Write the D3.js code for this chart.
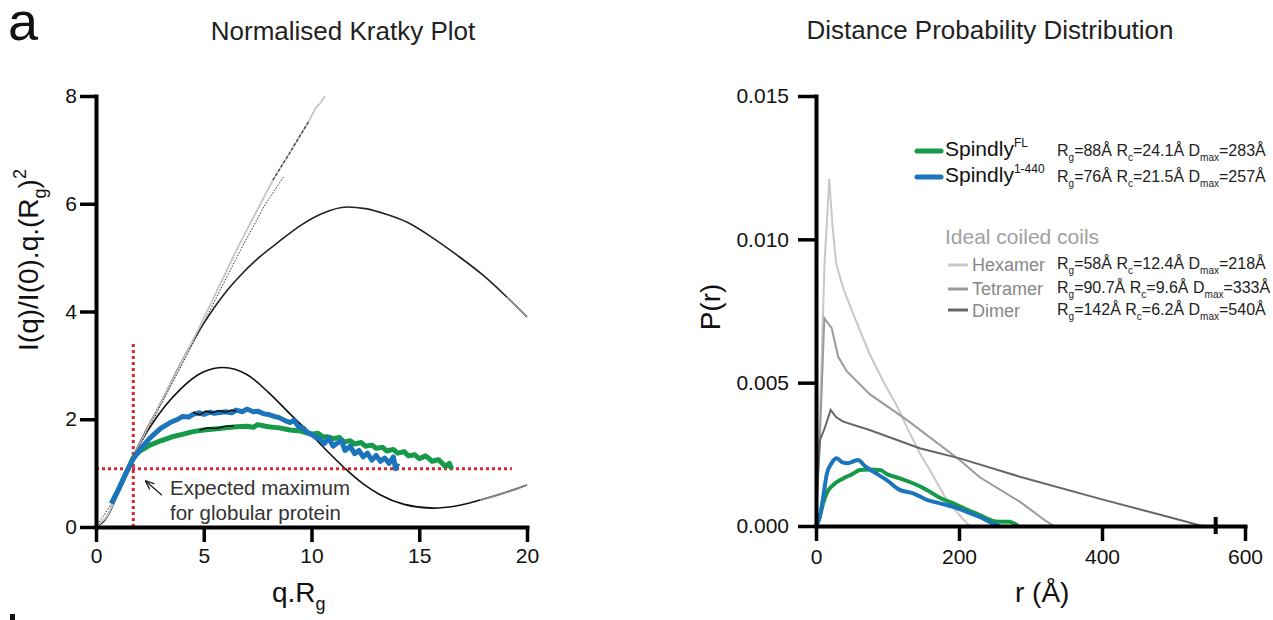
<!DOCTYPE html>
<html>
<head>
<meta charset="utf-8">
<script src="https://cdn.jsdelivr.net/npm/d3@7"></script>
<style>
body { margin: 0; background: #fff; }
text { font-family: "Liberation Sans", Arial, sans-serif; }
</style>
</head>
<body>
<script>
var w = 1273;
var h = 620;

// Kratky plot (q.Rg, normalised intensity)
var kratkyTicksX = [0, 5, 10, 15, 20];
var kratkyTicksY = [0, 2, 4, 6, 8];
var kratkyLight = [[0,0],[0.5,0.18],[1,0.6],[1.72,1.3],[3,2.3],[4.73,3.65],[6.68,5.27],[8.21,6.44],[9,6.95],[9.9,7.55],[10.2,7.78],[10.4,7.86],[10.63,8.0]];
var kratkyDotted = [[0,0],[1,0.6],[1.72,1.28],[3,2.26],[4.73,3.58],[6.68,5.12],[7.8,5.95],[8.7,6.5]];
var kratkyDashRange = [8.2, 9.9];
var kratkyArch = [[0,0],[0.5,0.18],[1,0.6],[1.72,1.3],[3,2.3],[4.36,3.35],[5,3.78],[5.5,4.08],[6,4.35],[6.68,4.66],[7.5,4.98],[8.5,5.3],[9.5,5.6],[10.5,5.82],[11.63,5.94],[12.5,5.91],[13.5,5.8],[14.42,5.66],[15.5,5.4],[16.74,5.05],[18,4.66],[19.06,4.27],[20,3.9]];
var kratkyGlobular = [[0,0],[0.5,0.18],[1,0.62],[1.72,1.3],[2.5,1.85],[3.9,2.55],[5,2.88],[5.91,2.96],[7,2.83],[8,2.5],[9,2.1],[9.78,1.8],[10.7,1.42],[11.63,1.06],[12.4,0.8],[13.18,0.6],[14.3,0.42],[15.65,0.35],[16.7,0.39],[17.82,0.5],[19,0.64],[20,0.78]];
var kratkyBlue = [[0.72,0.44],[1.0,0.66],[1.3,0.92],[1.72,1.26],[2.0,1.42],[2.5,1.65],[3.0,1.83],[3.5,1.95],[3.8,2.0],[4.0,2.05],[4.3,2.04],[4.5,2.09],[4.8,2.12],[5.0,2.09],[5.3,2.13],[5.5,2.11],[6.0,2.14],[6.3,2.12],[6.5,2.17],[6.8,2.14],[7.0,2.19],[7.3,2.14],[7.5,2.15],[7.8,2.1],[8.0,2.09],[8.3,2.05],[8.5,2.03],[8.8,1.97],[9.0,1.94],[9.2,1.98],[9.4,1.86],[9.6,1.84],[9.8,1.76],[10.0,1.72],[10.2,1.66],[10.4,1.63],[10.6,1.55],[10.8,1.65],[11.0,1.5],[11.2,1.56],[11.4,1.6],[11.55,1.42],[11.8,1.5],[12.0,1.36],[12.2,1.42],[12.4,1.3],[12.6,1.37],[12.8,1.24],[13.0,1.33],[13.2,1.22],[13.4,1.28],[13.6,1.18],[13.8,1.3],[13.9,1.08],[14.0,1.18]];
var kratkyGreen = [[0.72,0.44],[1.0,0.66],[1.3,0.92],[1.72,1.28],[2.0,1.4],[2.5,1.52],[3.0,1.6],[3.5,1.67],[4.0,1.72],[4.5,1.77],[5.0,1.8],[5.5,1.82],[6.0,1.84],[6.5,1.86],[7.0,1.87],[7.3,1.85],[7.5,1.9],[8.0,1.86],[8.5,1.84],[9.0,1.8],[9.5,1.78],[10.0,1.72],[10.3,1.74],[10.5,1.68],[10.8,1.67],[11.0,1.64],[11.3,1.66],[11.5,1.58],[11.8,1.6],[12.0,1.54],[12.3,1.57],[12.5,1.5],[12.8,1.52],[13.0,1.46],[13.3,1.48],[13.5,1.41],[13.8,1.44],[14.0,1.37],[14.3,1.4],[14.5,1.32],[14.8,1.34],[15.0,1.27],[15.3,1.32],[15.6,1.22],[15.9,1.25],[16.2,1.13],[16.4,1.18],[16.5,1.08]];
var kratkyBlackOnBlue = [[4.5,2.13],[4.8,2.08],[5.1,2.15],[5.4,2.12],[5.7,2.16],[6.0,2.13],[6.3,2.17],[6.5,2.15]];
var kratkyBlackOnGreen = [[4.8,1.8],[5.2,1.84],[5.6,1.83],[6.0,1.87],[6.4,1.88]];
var globularQ = 1.73;
var globularMax = 1.08;
var guideTop = 3.45;
var guideRight = 19.3;

// Distance distribution P(r)
var distTicksX = [0, 200, 400, 600];
var distTicksY = [0, 0.005, 0.010, 0.015];
var distAxisBreak = [559];
var prHexamer = [[0,0],[5,0.0035],[12,0.0092],[15,0.0105],[18.5,0.0121],[23,0.0105],[28,0.0092],[31,0.0089],[38,0.0083],[52,0.0074],[75,0.006],[95,0.005],[113,0.0042],[130,0.0033],[145,0.00255],[165,0.0017],[183,0.0009],[200,0.0004],[213,0.00005],[218,0]];
var prTetramer = [[0,0],[5,0.0028],[11.7,0.00725],[16,0.0071],[22,0.0069],[31,0.0059],[43,0.0054],[75,0.0046],[127,0.0037],[201,0.0023],[229,0.0017],[285,0.00085],[320,0.0002],[333,0]];
var prDimer = [[0,0],[2,0.0015],[5.6,0.003],[12,0.0034],[20.5,0.00405],[28,0.0038],[38,0.00364],[75,0.00335],[145,0.00271],[201,0.00236],[285,0.00172],[400,0.00093],[500,0.00027],[540,0]];
var prBlue = [[0,0],[5,0.0003],[10,0.001],[15,0.0018],[22,0.0022],[29,0.00236],[37,0.00222],[45,0.00219],[52,0.00225],[59,0.0023],[68,0.0021],[80,0.0019],[99,0.0016],[117,0.00126],[136,0.00114],[155,0.00091],[172,0.0008],[192,0.00067],[210,0.0005],[229,0.00032],[245,0.00012],[257,0]];
var prGreen = [[0,0],[5,0.0003],[10,0.0008],[16,0.0012],[24,0.00143],[38,0.00166],[50,0.0018],[61.5,0.00195],[75,0.00197],[89.5,0.00195],[100,0.0018],[117.5,0.00166],[135,0.0015],[155,0.00126],[172,0.001],[192,0.00079],[210,0.00058],[229,0.00038],[245,0.0002],[255,0.00015],[270,0.00015],[283,0]];

var spindlyNames = ["Spindly", "Spindly"];
var spindlySups = ["FL", "1-440"];
var spindlyRg = ["88", "76"];
var spindlyRc = ["24.1", "21.5"];
var spindlyDmax = ["283", "257"];
var idealNames = ["Hexamer", "Tetramer", "Dimer"];
var idealRg = ["58", "90.7", "142"];
var idealRc = ["12.4", "9.6", "6.2"];
var idealDmax = ["218", "333", "540"];

var green = "#17994a";
var blue = "#1c74bb";
var red = "#d4262c";
var hexColor = "#c8c8c8";
var tetColor = "#9a9a9a";
var dimColor = "#666666";

var svg = d3.select("body").append("svg")
  .attr("width", w)
  .attr("height", h);

// ---------- left panel ----------
var xK = d3.scaleLinear().domain([0, 20]).range([96, 527]);
var yK = d3.scaleLinear().domain([0, 8]).range([527, 96]);

var lineK = d3.line().x(function(d) { return xK(d[0]); }).y(function(d) { return yK(d[1]); });
var smoothK = d3.line().curve(d3.curveMonotoneX).x(function(d) { return xK(d[0]); }).y(function(d) { return yK(d[1]); });

var gk = svg.append("g");

gk.append("path").attr("d", smoothK(kratkyArch)).attr("fill", "none").attr("stroke", "#222").attr("stroke-width", 1.6);
gk.append("path").attr("d", smoothK(kratkyArch.filter(function(d) { return d[0] >= 19; })))
  .attr("fill", "none").attr("stroke", "#999").attr("stroke-width", 1.8);
gk.append("path").attr("d", smoothK(kratkyGlobular)).attr("fill", "none").attr("stroke", "#111").attr("stroke-width", 1.6);
gk.append("path").attr("d", smoothK(kratkyGlobular.filter(function(d) { return d[0] >= 17; })))
  .attr("fill", "none").attr("stroke", "#888").attr("stroke-width", 1.8);
gk.append("path").attr("d", lineK(kratkyLight)).attr("fill", "none").attr("stroke", "#c4c4c4").attr("stroke-width", 1.8);
gk.append("path").attr("d", lineK(kratkyDotted)).attr("fill", "none").attr("stroke", "#333").attr("stroke-width", 1).attr("stroke-dasharray", "1.5,1.5");
gk.append("path").attr("d", lineK(kratkyLight.filter(function(d) { return d[0] >= kratkyDashRange[0] && d[0] <= kratkyDashRange[1]; })))
  .attr("fill", "none").attr("stroke", "#333").attr("stroke-width", 1.2).attr("stroke-dasharray", "3,2");

// guide lines
gk.append("line")
  .attr("x1", xK(0)).attr("x2", xK(guideRight))
  .attr("y1", yK(globularMax)).attr("y2", yK(globularMax))
  .attr("stroke", red).attr("stroke-width", 3).attr("stroke-dasharray", "3,3");
gk.append("line")
  .attr("x1", xK(globularQ)).attr("x2", xK(globularQ))
  .attr("y1", yK(0)).attr("y2", yK(guideTop))
  .attr("stroke", red).attr("stroke-width", 3).attr("stroke-dasharray", "3,3");

gk.append("path").attr("d", lineK(kratkyGreen)).attr("fill", "none").attr("stroke", green).attr("stroke-width", 5).attr("stroke-linejoin", "round");
gk.append("path").attr("d", lineK(kratkyBlackOnGreen)).attr("fill", "none").attr("stroke", "#111").attr("stroke-width", 1.5);
gk.append("path").attr("d", lineK(kratkyBlue)).attr("fill", "none").attr("stroke", blue).attr("stroke-width", 5).attr("stroke-linejoin", "round");
gk.append("path").attr("d", lineK(kratkyBlackOnBlue)).attr("fill", "none").attr("stroke", "#111").attr("stroke-width", 1.5);

// annotation
svg.append("defs").append("marker")
  .attr("id", "arrow").attr("viewBox", "0 0 10 10").attr("refX", 9).attr("refY", 5)
  .attr("markerWidth", 7).attr("markerHeight", 7).attr("orient", "auto")
  .append("path").attr("d", "M0,1L10,5L0,9").attr("fill", "none").attr("stroke", "#222").attr("stroke-width", 1.5);
gk.append("line")
  .attr("x1", xK(3.06)).attr("y1", yK(0.59))
  .attr("x2", xK(2.32)).attr("y2", yK(0.85))
  .attr("stroke", "#222").attr("stroke-width", 1.3).attr("marker-end", "url(#arrow)");
gk.append("text").attr("x", 170).attr("y", 495).attr("font-size", 20.5).attr("fill", "#333").text("Expected maximum");
gk.append("text").attr("x", 170).attr("y", 520).attr("font-size", 20.5).attr("fill", "#333").text("for globular protein");

function styleAxis(g) {
  g.select(".domain").attr("stroke-width", 4).attr("stroke-linecap", "square");
  g.selectAll(".tick line").attr("stroke-width", 3.5);
  g.selectAll(".tick text").attr("font-size", 21).attr("fill", "#111")
    .attr("font-family", "Liberation Sans, Arial, sans-serif");
}

svg.append("g").attr("transform", "translate(0," + yK(0) + ")")
  .call(d3.axisBottom(xK).tickValues(kratkyTicksX).tickSize(15).tickSizeOuter(0).tickPadding(6))
  .call(styleAxis);
svg.append("g").attr("transform", "translate(" + xK(0) + ",0)")
  .call(d3.axisLeft(yK).tickValues(kratkyTicksY).tickSize(16).tickSizeOuter(0).tickPadding(3))
  .call(styleAxis);

// ---------- right panel ----------
var xP = d3.scaleLinear().domain([0, 600]).range([816, 1245]);
var yP = d3.scaleLinear().domain([0, 0.015]).range([526, 96]);
var lineP = d3.line().x(function(d) { return xP(d[0]); }).y(function(d) { return yP(d[1]); });
var smoothP = d3.line().curve(d3.curveMonotoneX).x(function(d) { return xP(d[0]); }).y(function(d) { return yP(d[1]); });

var gp = svg.append("g");
gp.append("path").attr("d", lineP(prHexamer)).attr("fill", "none").attr("stroke", hexColor).attr("stroke-width", 2);
gp.append("path").attr("d", lineP(prTetramer)).attr("fill", "none").attr("stroke", tetColor).attr("stroke-width", 2);
gp.append("path").attr("d", lineP(prDimer)).attr("fill", "none").attr("stroke", dimColor).attr("stroke-width", 2);
gp.append("path").attr("d", smoothP(prGreen)).attr("fill", "none").attr("stroke", green).attr("stroke-width", 4);
gp.append("path").attr("d", smoothP(prBlue)).attr("fill", "none").attr("stroke", blue).attr("stroke-width", 4);

svg.append("g").attr("transform", "translate(0," + yP(0) + ")")
  .call(d3.axisBottom(xP).tickValues(distTicksX).tickSize(15).tickSizeOuter(0).tickPadding(8))
  .call(styleAxis);
svg.append("g").attr("transform", "translate(" + xP(0) + ",0)")
  .call(d3.axisLeft(yP).tickValues(distTicksY).tickFormat(d3.format(".3f")).tickSize(18).tickSizeOuter(0).tickPadding(9))
  .call(styleAxis);

svg.selectAll(".axisbreak").data(distAxisBreak).enter().append("line")
  .attr("x1", function(d) { return xP(d); }).attr("x2", function(d) { return xP(d); })
  .attr("y1", yP(0) - 9).attr("y2", yP(0) + 8)
  .attr("stroke", "#000").attr("stroke-width", 4);

// legend
function paramText(x, y, rg, rc, dmax) {
  var t = svg.append("text").attr("x", x).attr("y", y).attr("font-size", 16).attr("fill", "#222");
  var parts = [["R", 0], ["g", 1], ["=" + rg + "Å R", 0], ["c", 1], ["=" + rc + "Å D", 0], ["max", 1], ["=" + dmax + "Å", 0]];
  parts.forEach(function(p) {
    var ts = t.append("tspan").text(p[0]);
    if (p[1]) ts.attr("dy", 5).attr("font-size", 10);
    else if (p[0] !== "R") ts.attr("dy", -5);
  });
}

var spindlyColors = [green, blue];
var spindlyY = [151, 177];
spindlyNames.forEach(function(n, i) {
  svg.append("line").attr("x1", 917).attr("x2", 941).attr("y1", spindlyY[i]).attr("y2", spindlyY[i])
    .attr("stroke", spindlyColors[i]).attr("stroke-width", 5).attr("stroke-linecap", "round");
  var t = svg.append("text").attr("x", 945).attr("y", spindlyY[i] + 5).attr("font-size", 21).attr("fill", "#111");
  t.append("tspan").text(n);
  t.append("tspan").attr("dy", -9).attr("font-size", 12).text(spindlySups[i]);
  paramText(1057, spindlyY[i] + 5, spindlyRg[i], spindlyRc[i], spindlyDmax[i]);
});

svg.append("text").attr("x", 945).attr("y", 244).attr("font-size", 21).attr("fill", "#a0a0a0").text("Ideal coiled coils");
var idealColors = [hexColor, tetColor, dimColor];
var idealY = [265, 289, 310];
var idealTextY = [271, 295, 317];
idealNames.forEach(function(n, i) {
  svg.append("line").attr("x1", 948).attr("x2", 968).attr("y1", idealY[i]).attr("y2", idealY[i])
    .attr("stroke", idealColors[i]).attr("stroke-width", 3);
  svg.append("text").attr("x", 972).attr("y", idealTextY[i]).attr("font-size", 18).attr("fill", "#888").text(n);
  paramText(1057, idealTextY[i] - 2, idealRg[i], idealRc[i], idealDmax[i]);
});

// ---------- titles and labels ----------
svg.append("text").attr("x", 8).attr("y", 40).attr("font-size", 54).attr("fill", "#111").text("a");
svg.append("rect").attr("x", 10).attr("y", 614).attr("width", 5).attr("height", 6).attr("fill", "#111");
svg.append("text").attr("x", 343).attr("y", 40).attr("text-anchor", "middle").attr("font-size", 26).attr("fill", "#222").text("Normalised Kratky Plot");
svg.append("text").attr("x", 990).attr("y", 39).attr("text-anchor", "middle").attr("font-size", 26).attr("fill", "#222").text("Distance Probability Distribution");

var xl = svg.append("text").attr("x", 272).attr("y", 602).attr("font-size", 28).attr("fill", "#111");
xl.append("tspan").text("q.R");
xl.append("tspan").attr("dy", 8).attr("font-size", 18).text("g");

svg.append("text").attr("x", 1015).attr("y", 602).attr("font-size", 28).attr("fill", "#111").text("r (Å)");

var yl = svg.append("text").attr("transform", "translate(38,260) rotate(-90)")
  .attr("text-anchor", "middle").attr("font-size", 28).attr("fill", "#111");
yl.append("tspan").text("I(q)/I(0).q.(R");
yl.append("tspan").attr("dy", 8).attr("font-size", 18).text("g");
yl.append("tspan").attr("dy", -8).text(")");
yl.append("tspan").attr("dy", -12).attr("font-size", 18).text("2");

svg.append("text").attr("transform", "translate(720,307) rotate(-90)")
  .attr("text-anchor", "middle").attr("font-size", 28).attr("fill", "#111").text("P(r)");
</script>
</body>
</html>
